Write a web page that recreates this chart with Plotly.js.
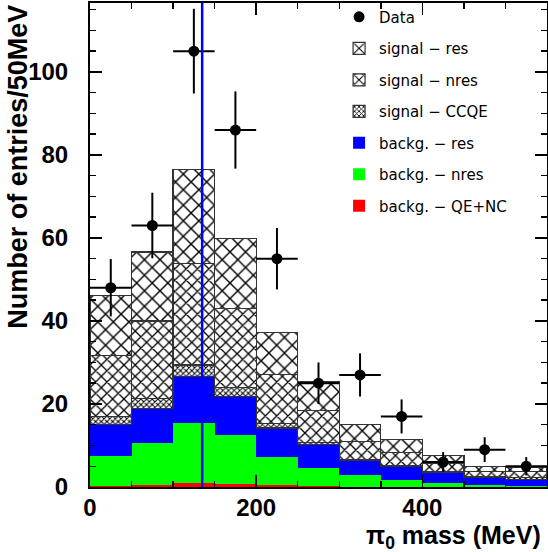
<!DOCTYPE html>
<html>
<head>
<meta charset="utf-8">
<script src="https://cdn.plot.ly/plotly-3.0.1.min.js"></script>
<style>html,body{margin:0;padding:0;background:#fff}#chart{width:548px;height:552px}</style>
</head>
<body>
<div id="chart"></div>
<script>
// Bin centres (MeV), 50 MeV wide bins
const binCenters = [25, 75, 125, 175, 225, 275, 325, 375, 425, 475, 525];

// Stacked components (entries per bin, each layer's own contribution)
const backgQENC  = [0.3, 0.6, 0.9, 0.7, 0.4, 0.2, 0.1, 0.1, 0.05, 0.05, 0.05];
const backgNres  = [7.1, 10.0, 14.6, 11.8, 6.8, 4.4, 2.9, 1.6, 0.95, 0.55, 0.15];
const backgRes   = [7.6, 8.3, 11.1, 9.3, 7.0, 5.6, 3.4, 3.2, 2.6, 1.8, 1.6];
const signalCCQE = [2.0, 2.4, 2.8, 2.2, 1.1, 0.5, 0.2, 0.3, 0.2, 0.2, 0.4];
const signalNres = [14.7, 18.7, 24.4, 19.0, 11.8, 7.7, 4.3, 3.1, 1.8, 1.1, 1.5];
const signalRes  = [14.4, 16.6, 22.6, 16.8, 10.1, 6.9, 4.1, 3.1, 2.0, 1.3, 1.1];

// Data points and their errors
const dataCounts = [48, 63, 105, 86, 55, 25, 27, 17, 6, 9, 5];
const dataErrors = [6.9, 7.9, 10.2, 9.3, 7.4, 5.0, 5.2, 4.1, 2.4, 3.0, 2.2];

// Tick labels
const xTickVals = [0, 200, 400];
const xTickText = ['0', '200', '400'];
const yTickVals = [0, 20, 40, 60, 80, 100];
const yTickText = ['0', '20', '40', '60', '80', '100'];

const pi0Mass = 135;

const legendFont = {family: 'DejaVu Sans', size: 15, color: '#000'};

function colourBar(name, y, colour, rank) {
  return {type: 'bar', name: name, x: binCenters, y: y, legendgroup: 'g' + rank, legendrank: rank,
    marker: {color: colour, line: {width: 0}}, hoverinfo: 'skip'};
}
function hatchBar(name, y, size, solidity, rank) {
  return {type: 'bar', name: name, x: binCenters, y: y, legendgroup: 'g' + rank, legendrank: rank,
    marker: {color: '#ffffff', line: {color: '#333333', width: 1.2},
      pattern: {shape: 'x', size: size, solidity: solidity, fgcolor: '#000000', bgcolor: '#ffffff', fillmode: 'replace'}},
    hoverinfo: 'skip'};
}

const traces = [
  colourBar('backg. − QE+NC', backgQENC, '#ff0000', 7),
  colourBar('backg. − nres', backgNres, '#00ff00', 6),
  colourBar('backg. − res', backgRes, '#0000ff', 5),
  hatchBar('signal − CCQE', signalCCQE, 4, 0.45, 4),
  hatchBar('signal − nres', signalNres, 8, 0.3, 3),
  hatchBar('signal − res', signalRes, 11, 0.24, 2),
  {type: 'scatter', mode: 'markers', name: 'Data', x: binCenters, y: dataCounts, legendgroup: 'g1', legendrank: 1,
    marker: {color: '#000', size: 11},
    error_y: {type: 'data', array: dataErrors, width: 0, thickness: 2, color: '#000'},
    error_x: {type: 'constant', value: 25, width: 0, thickness: 2, color: '#000'}}
];

const tickFont = {family: 'Liberation Sans', size: 24, weight: 'bold', color: '#000'};
const titleFont = {family: 'Liberation Sans', size: 25, weight: 'bold', color: '#000'};
const yTitleFont = {family: 'Liberation Sans', size: 27, weight: 'bold', color: '#000'};

const layout = {
  width: 548, height: 552,
  margin: {l: 90, r: 1, t: 1, b: 65},
  paper_bgcolor: '#fff', plot_bgcolor: '#fff',
  barmode: 'stack', bargap: 0,
  showlegend: true,
  legend: {x: 0.545, xanchor: 'left', y: 1.005, yanchor: 'top', bgcolor: 'rgba(255,255,255,0)',
    font: legendFont, traceorder: 'grouped', tracegroupgap: 9, itemwidth: 30},
  xaxis: {range: [0, 550], tickvals: xTickVals, ticktext: xTickText, ticks: 'inside', ticklen: 12, tickwidth: 1.5,
    tickcolor: '#000', showline: true, linecolor: '#000', linewidth: 2, mirror: 'ticks',
    showgrid: false, zeroline: false, tickfont: tickFont, ticklabelstandoff: -2,
    minor: {dtick: 50, ticks: 'inside', ticklen: 6, tickwidth: 1.5, tickcolor: '#000', showgrid: false}},
  yaxis: {range: [0, 116.6], tickvals: yTickVals, ticktext: yTickText, ticks: 'inside', ticklen: 12, tickwidth: 1.5,
    tickcolor: '#000', showline: true, linecolor: '#000', linewidth: 2, mirror: 'ticks',
    showgrid: false, zeroline: false, tickfont: tickFont, ticklabelstandoff: 15,
    minor: {dtick: 5, ticks: 'inside', ticklen: 6, tickwidth: 1.5, tickcolor: '#000', showgrid: false}},
  shapes: [{type: 'line', xref: 'x', yref: 'paper', x0: pi0Mass, x1: pi0Mass, y0: 0, y1: 1,
    line: {color: '#0000ff', width: 2.5}, layer: 'above'}],
  annotations: [
    {text: 'Number of entries/50MeV', textangle: -90, xref: 'paper', yref: 'paper',
      x: -0.158, xanchor: 'center', y: 1.0, yanchor: 'top', showarrow: false, font: yTitleFont},
    {text: 'π<sub>0</sub> mass (MeV)', xref: 'paper', yref: 'paper', borderpad: 0,
      x: 0.99, xanchor: 'right', y: -0.068, yanchor: 'top', showarrow: false, font: titleFont}
  ]
};

Plotly.newPlot('chart', traces, layout, {displayModeBar: false, staticPlot: true});
</script>
</body>
</html>
